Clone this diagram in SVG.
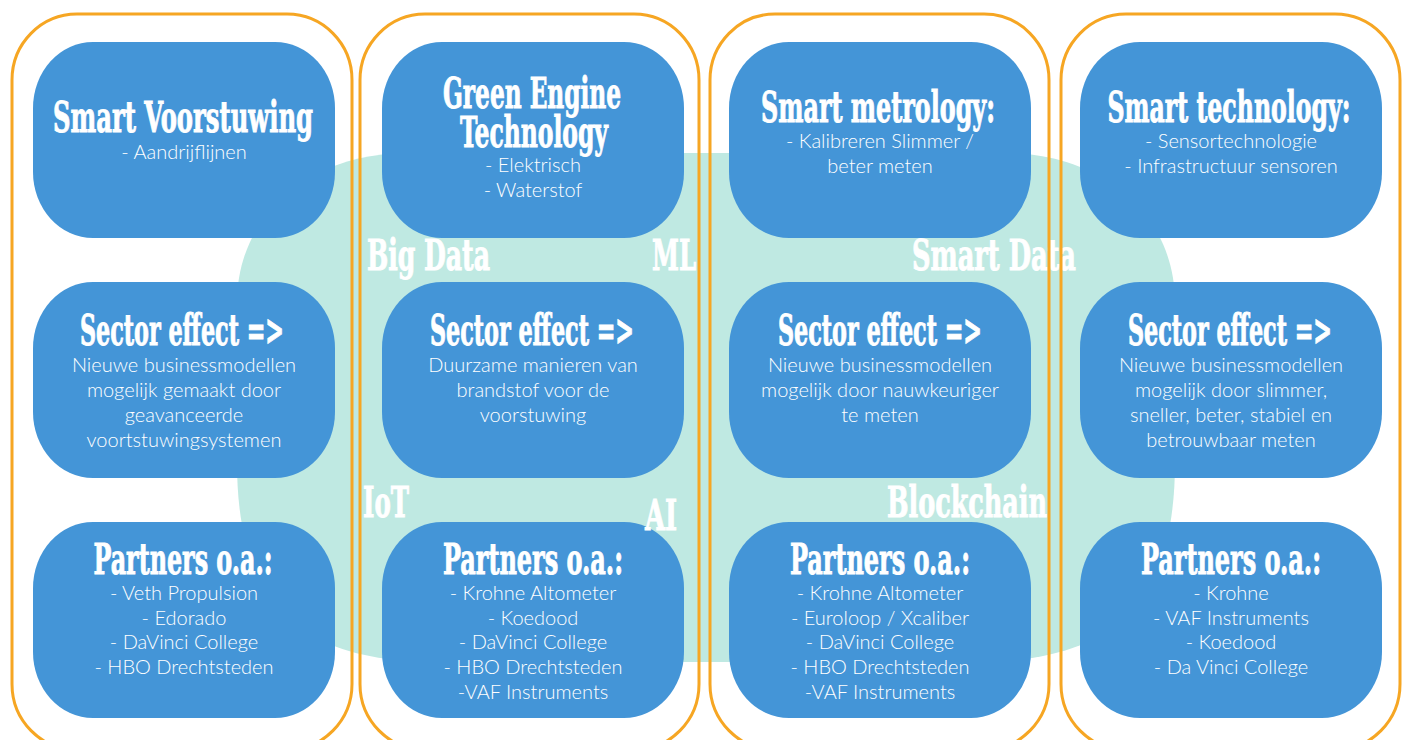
<svg xmlns="http://www.w3.org/2000/svg" width="1407" height="740" viewBox="0 0 1407 740">
<style>
.bg{fill:#ffffff}
.teal{fill:#BFE9E2}
.box{fill:#4495D7}
.col{fill:none;stroke:#F6A623;stroke-width:3}
.t{font-family:"DejaVu Serif Condensed","DejaVu Serif",serif;font-weight:bold;font-stretch:condensed;font-size:42px;fill:#ffffff;stroke:#ffffff;stroke-width:0.9;text-anchor:middle}
.lbl{font-family:"DejaVu Serif Condensed","DejaVu Serif",serif;font-weight:bold;font-stretch:condensed;font-size:42px;fill:#ffffff;stroke:#ffffff;stroke-width:0.9}
.b{font-family:Lato,"Open Sans",sans-serif;font-weight:300;font-size:20px;fill:#ffffff;text-anchor:middle}
</style>
<rect class="bg" x="0" y="0" width="1407" height="740"/>
<path id="tech-area" class="teal" d="M407 153 H1005 C1099 153 1175 212 1175 303 V462 C1175 602 1115 662 975 662 H437 C297 662 237 602 237 462 V303 C237 212 313 153 407 153 Z"/>
<g id="connectors"></g>

<g id="smart-voorstuwing">
<rect class="box" x="33" y="42" width="302" height="196" rx="60" ry="66"/>
<text class="t" x="183" y="132" textLength="260" lengthAdjust="spacingAndGlyphs">Smart Voorstuwing</text>
<text class="b" x="184" y="159">- Aandrijflijnen</text>
</g>
<g id="green-engine">
<rect class="box" x="382" y="42" width="302" height="196" rx="60" ry="66"/>
<text class="t" x="532" y="108" textLength="178" lengthAdjust="spacingAndGlyphs">Green Engine</text>
<text class="t" x="534" y="147" textLength="148" lengthAdjust="spacingAndGlyphs">Technology</text>
<text class="b" x="533" y="172">- Elektrisch</text>
<text class="b" x="533" y="197">- Waterstof</text>
</g>
<g id="smart-metrology">
<rect class="box" x="729" y="42" width="302" height="196" rx="60" ry="66"/>
<text class="t" x="878" y="122" textLength="234" lengthAdjust="spacingAndGlyphs">Smart metrology:</text>
<text class="b" x="880" y="148">- Kalibreren Slimmer /</text>
<text class="b" x="880" y="173">beter meten</text>
</g>
<g id="smart-technology">
<rect class="box" x="1080" y="42" width="302" height="196" rx="60" ry="66"/>
<text class="t" x="1229" y="122" textLength="243" lengthAdjust="spacingAndGlyphs">Smart technology:</text>
<text class="b" x="1231" y="148">- Sensortechnologie</text>
<text class="b" x="1231" y="173">- Infrastructuur sensoren</text>
</g>

<g id="sector-effect-1">
<rect class="box" x="33" y="282" width="302" height="196" rx="60" ry="66"/>
<text class="t" x="182" y="345" textLength="204" lengthAdjust="spacingAndGlyphs">Sector effect =&gt;</text>
<text class="b" x="184" y="372">Nieuwe businessmodellen</text>
<text class="b" x="184" y="397">mogelijk gemaakt door</text>
<text class="b" x="184" y="422">geavanceerde</text>
<text class="b" x="184" y="447">voortstuwingsystemen</text>
</g>
<g id="sector-effect-2">
<rect class="box" x="382" y="282" width="302" height="196" rx="60" ry="66"/>
<text class="t" x="532" y="345" textLength="204" lengthAdjust="spacingAndGlyphs">Sector effect =&gt;</text>
<text class="b" x="533" y="372">Duurzame manieren van</text>
<text class="b" x="533" y="397">brandstof voor de</text>
<text class="b" x="533" y="422">voorstuwing</text>
</g>
<g id="sector-effect-3">
<rect class="box" x="729" y="282" width="302" height="196" rx="60" ry="66"/>
<text class="t" x="880" y="345" textLength="204" lengthAdjust="spacingAndGlyphs">Sector effect =&gt;</text>
<text class="b" x="880" y="372">Nieuwe businessmodellen</text>
<text class="b" x="880" y="397">mogelijk door nauwkeuriger</text>
<text class="b" x="880" y="422">te meten</text>
</g>
<g id="sector-effect-4">
<rect class="box" x="1080" y="282" width="302" height="196" rx="60" ry="66"/>
<text class="t" x="1230" y="345" textLength="204" lengthAdjust="spacingAndGlyphs">Sector effect =&gt;</text>
<text class="b" x="1231" y="372">Nieuwe businessmodellen</text>
<text class="b" x="1231" y="397">mogelijk door slimmer,</text>
<text class="b" x="1231" y="422">sneller, beter, stabiel en</text>
<text class="b" x="1231" y="447">betrouwbaar meten</text>
</g>

<g id="partners-1">
<rect class="box" x="33" y="522" width="302" height="196" rx="60" ry="66"/>
<text class="t" x="183" y="574" textLength="179" lengthAdjust="spacingAndGlyphs">Partners o.a.:</text>
<text class="b" x="184" y="600">- Veth Propulsion</text>
<text class="b" x="184" y="625">- Edorado</text>
<text class="b" x="184" y="649">- DaVinci College</text>
<text class="b" x="184" y="674">- HBO Drechtsteden</text>
</g>
<g id="partners-2">
<rect class="box" x="382" y="522" width="302" height="196" rx="60" ry="66"/>
<text class="t" x="533" y="574" textLength="180" lengthAdjust="spacingAndGlyphs">Partners o.a.:</text>
<text class="b" x="533" y="600">- Krohne Altometer</text>
<text class="b" x="533" y="625">- Koedood</text>
<text class="b" x="533" y="649">- DaVinci College</text>
<text class="b" x="533" y="674">- HBO Drechtsteden</text>
<text class="b" x="533" y="699">-VAF Instruments</text>
</g>
<g id="partners-3">
<rect class="box" x="729" y="522" width="302" height="196" rx="60" ry="66"/>
<text class="t" x="880" y="574" textLength="180" lengthAdjust="spacingAndGlyphs">Partners o.a.:</text>
<text class="b" x="880" y="600">- Krohne Altometer</text>
<text class="b" x="880" y="625">- Euroloop / Xcaliber</text>
<text class="b" x="880" y="649">- DaVinci College</text>
<text class="b" x="880" y="674">- HBO Drechtsteden</text>
<text class="b" x="880" y="699">-VAF Instruments</text>
</g>
<g id="partners-4">
<rect class="box" x="1080" y="522" width="302" height="196" rx="60" ry="66"/>
<text class="t" x="1231" y="574" textLength="180" lengthAdjust="spacingAndGlyphs">Partners o.a.:</text>
<text class="b" x="1231" y="600">- Krohne</text>
<text class="b" x="1231" y="625">- VAF Instruments</text>
<text class="b" x="1231" y="649">- Koedood</text>
<text class="b" x="1231" y="674">- Da Vinci College</text>
</g>

<g id="tech-labels">
<text class="lbl" x="367" y="270" textLength="123" lengthAdjust="spacingAndGlyphs">Big Data</text>
<text class="lbl" x="652" y="270" textLength="44" lengthAdjust="spacingAndGlyphs">ML</text>
<text class="lbl" x="912" y="270" textLength="164" lengthAdjust="spacingAndGlyphs">Smart Data</text>
<text class="lbl" x="363" y="517" textLength="46" lengthAdjust="spacingAndGlyphs">IoT</text>
<text class="lbl" x="645" y="530" textLength="32" lengthAdjust="spacingAndGlyphs">AI</text>
<text class="lbl" x="887" y="517" textLength="160" lengthAdjust="spacingAndGlyphs">Blockchain</text>
</g>

<g id="columns">
<rect id="column-1" class="col" x="12" y="14" width="340" height="736" rx="65" ry="66"/>
<rect id="column-2" class="col" x="360" y="14" width="339" height="736" rx="65" ry="66"/>
<rect id="column-3" class="col" x="710" y="14" width="339" height="736" rx="65" ry="66"/>
<rect id="column-4" class="col" x="1061" y="14" width="339" height="736" rx="65" ry="66"/>
</g>
</svg>
